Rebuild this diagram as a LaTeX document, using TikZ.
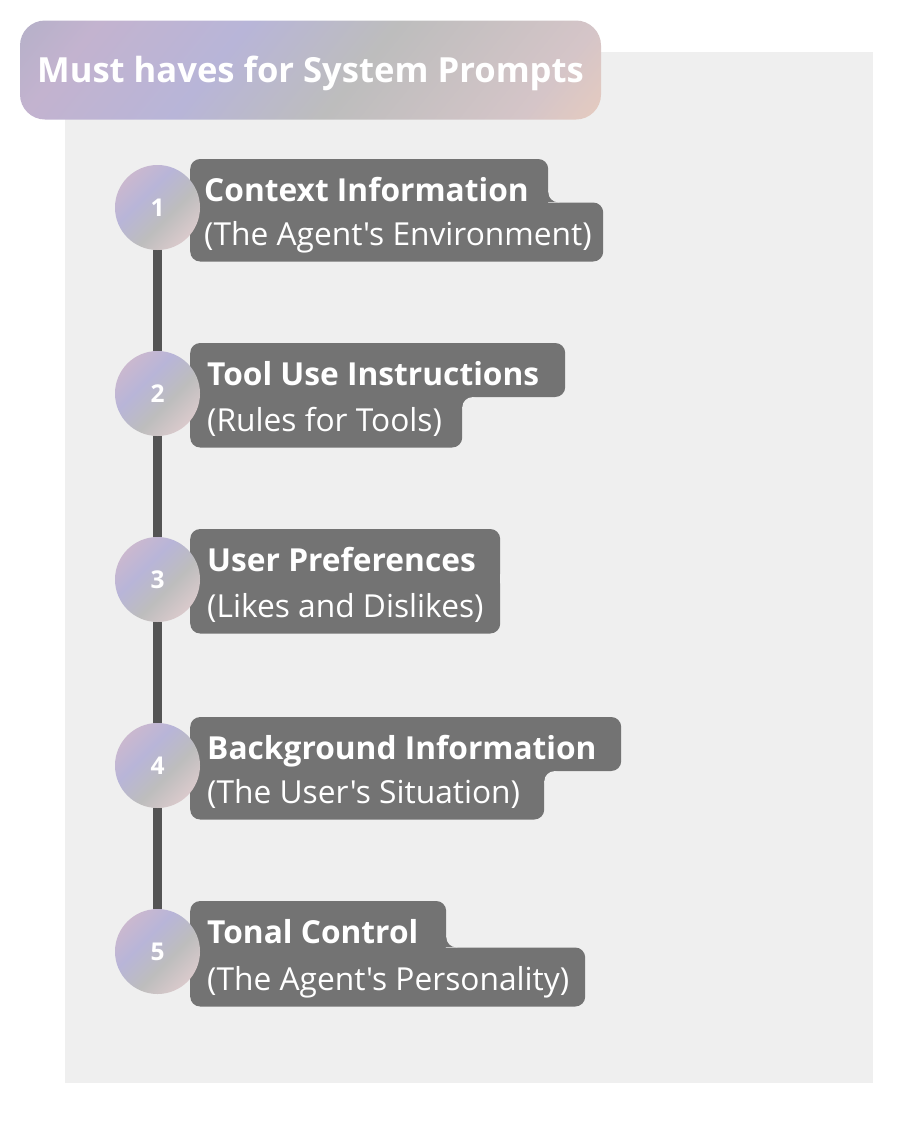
\documentclass[tikz,border=0pt]{standalone}
\usepackage{fontspec}
\newfontfamily\osans{Open Sans}
\usetikzlibrary{calc}
\definecolor{panelc}{HTML}{EFEFEF}
\definecolor{boxc}{HTML}{737373}
\definecolor{linec}{HTML}{545454}
\definecolor{tA}{HTML}{B5B0C8}
\definecolor{tB}{HTML}{C3B3CF}
\definecolor{tC}{HTML}{B8B5D8}
\definecolor{tD}{HTML}{BDBDBD}
\definecolor{tE}{HTML}{D5C5C8}
\definecolor{tF}{HTML}{E6CBBF}
\definecolor{cA}{HTML}{CAB8CF}
\definecolor{cB}{HTML}{B8B5D8}
\definecolor{cC}{HTML}{BDBDBD}
\definecolor{cD}{HTML}{DACACC}
\pgfdeclarehorizontalshading{titleshade}{100bp}{color(0bp)=(tA); color(32bp)=(tA); color(36.4bp)=(tB); color(44.6bp)=(tC); color(52.7bp)=(tD); color(63.6bp)=(tE); color(68bp)=(tF); color(100bp)=(tF)}
\pgfdeclarehorizontalshading{circshade}{100bp}{color(0bp)=(cA); color(25bp)=(cA); color(40bp)=(cB); color(58bp)=(cC); color(75bp)=(cD); color(100bp)=(cD)}
\pgfdeclarelayer{background}
\pgfsetlayers{background,main}
\newcommand\bx[3][17]{\makebox[#2pt][l]{\hspace{#1pt}#3}}
\begin{document}
\begin{tikzpicture}[x=1pt,y=-1pt,
  titlebox/.style={minimum width=581pt, minimum height=99pt, inner sep=0pt, rounded corners=25pt, text=white,
    font=\osans\fontsize{34.6}{40}\selectfont\bfseries, text height=24.7pt, text depth=0pt,
    path picture={\shade[shading=titleshade, shading angle=-39] ($(path picture bounding box.center)+(-360,-360)$) rectangle ++(720,720);}},
  lineone/.style={fill=boxc, rounded corners=10pt, inner sep=0pt, text height=42.5pt, text depth=11.5pt,
    anchor=base west, text=white, font=\osans\fontsize{31.7}{37}\selectfont\bfseries},
  linetwo/.style={fill=boxc, rounded corners=10pt, inner sep=0pt, text height=43pt, text depth=16pt,
    anchor=base west, text=white, font=\osans\fontsize{31.7}{37}\selectfont},
  numcirc/.style={circle, minimum size=85pt, inner sep=0pt, shade, shading=circshade, shading angle=-45,
    text=white, font=\osans\fontsize{24.5}{28}\selectfont\bfseries},
  spine/.style={draw=linec, line width=9.5pt},
  panel/.style={fill=panelc},
]
\useasboundingbox (0,0) rectangle (916,1122);
\begin{pgfonlayer}{background}
\fill[white] (0,0) rectangle (916,1122);
\path[panel] (65,52) rectangle (873,1083);
\end{pgfonlayer}

\node[titlebox] (title) at (310.5,70) {Must haves for System Prompts};

% item 1
\node[linetwo] (b1) at (190,245.5) {\bx[14]{413}{(The Agent's Environment)}};
\node[lineone] (a1) at (190,201.5) {\bx[14]{358}{Context Information}};
\fill[boxc] (a1.east |- b1.north) rectangle ++(10,-10);
\fill[panelc] ($(a1.east |- b1.north)+(10,-10)$) circle (10pt);
% item 2
\node[linetwo] (b2) at (190,431.5) {\bx{272}{(Rules for Tools)}};
\node[lineone] (a2) at (190,385.5) {\bx{375}{Tool Use Instructions}};
\fill[boxc] (b2.east |- a2.south) rectangle ++(10,10);
\fill[panelc] ($(b2.east |- a2.south)+(10,10)$) circle (10pt);
% item 3
\node[linetwo] (b3) at (190,617.5) {\bx{310}{(Likes and Dislikes)}};
\node[lineone] (a3) at (190,571.5) {\bx{310}{User Preferences}};
\fill[boxc] ($(b3.north east)+(-12,-10)$) rectangle ($(a3.south east)+(0,10)$);
% item 4
\node[linetwo] (b4) at (190,803.5) {\bx{354}{(The User's Situation)}};
\node[lineone] (a4) at (190,759.5) {\bx{431}{Background Information}};
\fill[boxc] (b4.east |- a4.south) rectangle ++(10,10);
\fill[panelc] ($(b4.east |- a4.south)+(10,10)$) circle (10pt);
% item 5
\node[linetwo] (b5) at (190,990.5) {\bx{395}{(The Agent's Personality)}};
\node[lineone] (a5) at (190,943.5) {\bx{256}{Tonal Control}};
\fill[boxc] (a5.east |- b5.north) rectangle ++(10,-10);
\fill[panelc] ($(a5.east |- b5.north)+(10,-10)$) circle (10pt);

% circles
\node[numcirc] (n1) at (157.5,207.5) {1};
\node[numcirc] (n2) at (157.5,393.5) {2};
\node[numcirc] (n3) at (157.5,579.5) {3};
\node[numcirc] (n4) at (157.5,765.5) {4};
\node[numcirc] (n5) at (157.5,951.5) {5};

\begin{pgfonlayer}{background}
\path[spine] (n1.center) -- (n2.center) -- (n3.center) -- (n4.center) -- (n5.center);
\end{pgfonlayer}
\end{tikzpicture}
\end{document}
